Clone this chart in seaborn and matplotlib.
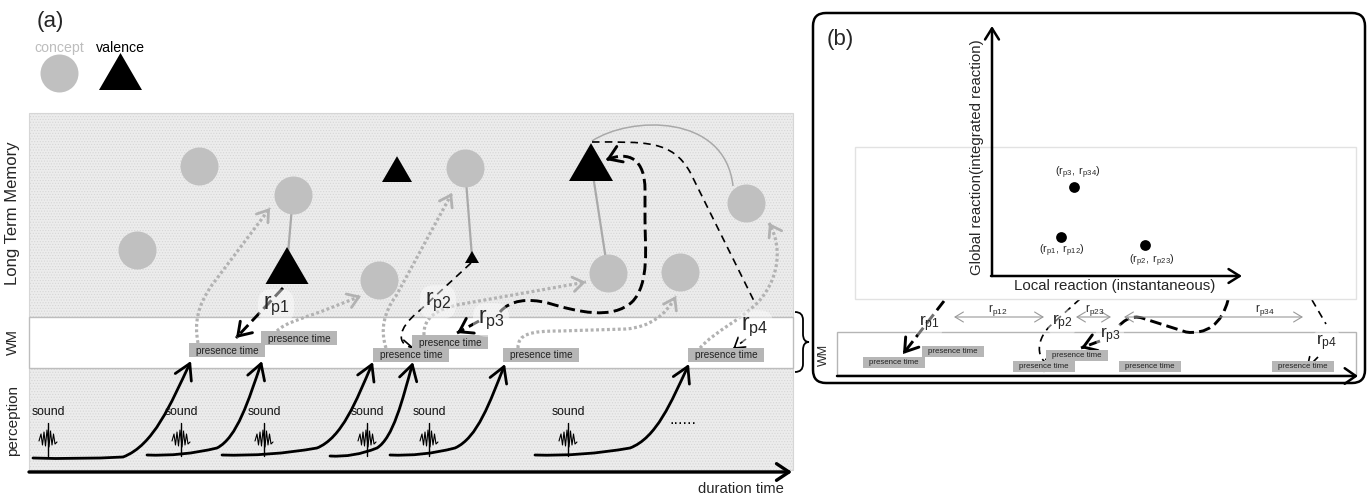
import numpy as np
import matplotlib
matplotlib.use("Agg")
import matplotlib.pyplot as plt
import seaborn as sns
import pandas as pd
from matplotlib.path import Path
from matplotlib.patches import Rectangle, Polygon, PathPatch, FancyArrowPatch, FancyBboxPatch

# ---------------- data (diagram coordinates, pixel space) ----------------
concept_x = [199, 293, 137, 379, 465, 608, 680, 746]
concept_y = [166, 195, 250, 280, 168, 273, 272, 203]

valence_x = [287, 397, 472, 591]
valence_base = [284, 182, 263, 181]
valence_w = [43, 30, 14, 44]

link_concept = [1, 4, 5]
link_valence = [0, 2, 3]

presence_x = [189, 261, 373, 412, 503, 688]
presence_y = [343, 331, 348, 335, 348, 348]

sound_x = [48, 181, 264, 367, 429, 568]

curve_x0 = [33, 147, 222, 330, 390, 535]
curve_y0 = [458, 455, 455, 456, 455, 455]
curve_xk = [123, 217, 317, 377, 455, 630]
curve_yk = [457, 448, 448, 448, 448, 448]
curve_x1 = [191, 262, 373, 413, 505, 689]
curve_y1 = [361, 361, 362, 362, 364, 364]

wave_dx = [-9, -7, -5.5, -4, -2.5, -1, 1, 2.5, 4, 5.5, 7, 9]
wave_dy = [2, -5, 6, -7, 7, -9, 8, -8, 6, -5, 5, 3]

r_labels_a = ["p1", "p2", "p3", "p4"]
r_label_x_a = [276, 438, 491, 755]
r_label_y_a = [306, 302, 320, 327]

# panel (b)
local_reaction = [1061, 1145, 1074]
global_reaction = [237, 245, 187]
point_labels = [r"$\mathregular{(r_{p1},\ r_{p12})}$", r"$\mathregular{(r_{p2},\ r_{p23})}$",
                r"$\mathregular{(r_{p3},\ r_{p34})}$"]
point_label_x = [1062, 1152, 1078]
point_label_y = [251, 261, 173]

pb_presence_x = [863, 922, 1013, 1046, 1119, 1272]
pb_presence_y = [357, 346, 361, 350, 361, 361]

span_x0 = [954, 1076, 1124]
span_x1 = [1044, 1111, 1303]
span_labels = ["p12", "p23", "p34"]
span_label_x = [998, 1095, 1265]

r_label_x_b = [929, 1062, 1110, 1327]
r_label_y_b = [324, 323, 336, 343]

# path specs
dot_paths = [
    [("M", (198, 343)), ("C", (194, 322), (198, 305), (212, 285)), ("L", (270, 208))],
    [("M", (277, 331)), ("C", (285, 323), (300, 319), (320, 312)), ("L", (361, 296))],
    [("M", (386, 348)), ("C", (380, 330), (384, 312), (396, 296)), ("L", (452, 193))],
    [("M", (424, 335)), ("C", (423, 318), (436, 309), (462, 304)), ("L", (586, 282))],
    [("M", (518, 348)), ("C", (518, 334), (530, 331), (560, 331)), ("L", (626, 329)),
     ("C", (650, 327), (666, 315), (676, 296))],
    [("M", (700, 348)), ("C", (716, 330), (742, 320), (760, 300)), ("C", (780, 276), (782, 246), (769, 223))],
]

# (spec, thick?, head?)
dash_paths = [
    ([("M", (283, 288)), ("L", (236, 338))], True, True),
    ([("M", (471, 263)), ("L", (418, 312)), ("C", (398, 328), (395, 345), (414, 348))], False, True),
    ([("M", (500, 312)), ("C", (510, 300), (528, 298), (548, 303)), ("C", (578, 312), (612, 320), (632, 302)),
      ("C", (650, 284), (645, 245), (645, 220)), ("L", (645, 190)), ("C", (645, 160), (630, 150), (606, 160))],
     True, True),
    ([("M", (479, 321)), ("L", (457, 333))], True, True),
    ([("M", (592, 142)), ("C", (645, 142), (672, 140), (690, 172)), ("L", (755, 303))], False, False),
    ([("M", (746, 339)), ("L", (733, 349))], False, True),
    # panel b
    ([("M", (944, 301)), ("L", (903, 354))], True, True),
    ([("M", (1080, 299)), ("L", (1050, 326)), ("C", (1034, 342), (1036, 364), (1056, 367))], False, True),
    ([("M", (1228, 300)), ("C", (1222, 324), (1206, 335), (1186, 332)), ("L", (1142, 318)),
      ("C", (1132, 315), (1124, 320), (1118, 327))], True, False),
    ([("M", (1100, 341)), ("L", (1081, 348))], True, True),
    ([("M", (1312, 300)), ("L", (1326, 324))], False, False),
    ([("M", (1318, 357)), ("L", (1306, 369))], False, True),
]

arc_path = [("M", (592, 141)), ("C", (630, 116), (725, 113), (733, 186))]
brace_path = [("M", (795, 312)), ("Q", (803, 312), (803, 320)), ("L", (803, 334)), ("Q", (803, 342), (809, 342)),
              ("Q", (803, 342), (803, 350)), ("L", (803, 364)), ("Q", (803, 372), (795, 372))]

# ---------------- style ----------------
sns.set_theme(style="white")
FONT = "Liberation Sans"
plt.rcParams["font.family"] = [FONT, "DejaVu Sans"]
plt.rcParams["mathtext.fontset"] = "custom"
plt.rcParams["mathtext.rm"] = FONT
plt.rcParams["mathtext.it"] = FONT + ":italic"
plt.rcParams["hatch.linewidth"] = 0.5
plt.rcParams["hatch.color"] = "#d2d2d2"

CONCEPT = "#c0c0c0"
BOX = "#b6b6b6"
DOT = "#b2b2b2"
BG = "#ececec"

fig = plt.figure(figsize=(13.67, 4.97), dpi=100)
ax = fig.add_axes([0, 0, 1, 1])


def make_path(spec):
    verts, codes = [], []
    for seg in spec:
        kind, pts = seg[0], seg[1:]
        if kind == "M":
            verts.append(pts[0]); codes.append(Path.MOVETO)
        elif kind == "L":
            verts.append(pts[0]); codes.append(Path.LINETO)
        elif kind == "Q":
            verts += list(pts); codes += [Path.CURVE3] * 2
        elif kind == "C":
            verts += list(pts); codes += [Path.CURVE4] * 3
    return Path(verts, codes)


def head(path, color, lw, hl, hw, z):
    v = np.asarray(path.vertices, float)
    end, prev = v[-1], v[-2]
    d = end - prev
    d = d / np.hypot(*d)
    a = FancyArrowPatch(posA=tuple(end - d * 3), posB=tuple(end),
                        arrowstyle=f"->,head_length={hl},head_width={hw}", mutation_scale=20,
                        color=color, lw=lw, shrinkA=0, shrinkB=0, zorder=z, capstyle="round",
                        joinstyle="miter")
    ax.add_patch(a)


# backgrounds
ax.add_patch(Rectangle((29, 113), 764, 204, fc=BG, ec="#d6d6d6", lw=0.8, hatch="......", zorder=0))
ax.add_patch(Rectangle((29, 368), 764, 102, fc=BG, ec="#d6d6d6", lw=0.8, hatch="......", zorder=0))
ax.add_patch(Rectangle((29, 317), 764, 51, fc="white", ec="#bdbdbd", lw=1.0, zorder=0.5))

# links between concept and valence
for ci, vi in zip(link_concept, link_valence):
    vb = valence_base[vi]
    vh = valence_w[vi] * 0.86
    ax.plot([concept_x[ci], valence_x[vi]], [concept_y[ci], vb - vh / 2], color="#a9a9a9", lw=1.6, zorder=1.5)
ax.add_patch(PathPatch(make_path(arc_path), fill=False, ec="#a9a9a9", lw=1.1, zorder=1.5))

# dotted gray arrows
for spec in dot_paths:
    p = make_path(spec)
    ax.add_patch(PathPatch(p, fill=False, ec=DOT, lw=2.3, ls=(0, (0.9, 0.8)), capstyle="butt", zorder=2))
    head(p, DOT, 2.0, 0.38, 0.26, 2)

# dashed black
for spec, thick, hd in dash_paths:
    p = make_path(spec)
    lw = 2.1 if thick else 1.2
    ls = (0, (4.0, 1.8)) if thick else (0, (4.5, 3.2))
    ax.add_patch(PathPatch(p, fill=False, ec="black", lw=lw, ls=ls, capstyle="butt", zorder=2.5))
    if hd:
        if thick:
            head(p, "black", 2.1, 0.45, 0.3, 2.5)
        else:
            head(p, "black", 1.2, 0.35, 0.22, 2.5)

# concept nodes (seaborn)
concept_df = pd.DataFrame({"x": concept_x, "y": concept_y})
sns.scatterplot(data=concept_df, x="x", y="y", s=748, color=CONCEPT, linewidth=0, ax=ax, zorder=3, legend=False)

# valence nodes
for cx, b, w in zip(valence_x, valence_base, valence_w):
    h = w * 0.86
    ax.add_patch(Polygon([(cx - w / 2, b), (cx + w / 2, b), (cx, b - h)], closed=True, fc="black", ec="none", zorder=3))

# presence time boxes
for x, y in zip(presence_x, presence_y):
    ax.add_patch(Rectangle((x, y), 76, 14, fc=BOX, ec="none", zorder=4))
    ax.text(x + 38, y + 7.5, "presence time", ha="center", va="center", fontsize=7.2, color="#222222",
            zorder=4.5)

# perception curves
for x0, y0, xk, yk, x1, y1 in zip(curve_x0, curve_y0, curve_xk, curve_yk, curve_x1, curve_y1):
    spec = [("M", (x0, y0)), ("Q", ((x0 + xk) / 2, y0 + 1.5), (xk, yk)),
            ("C", (xk + 0.45 * (x1 - xk), yk - 0.12 * (yk - y1)), (x1 - 0.3 * (x1 - xk), y1 + 0.45 * (yk - y1)),
             (x1, y1))]
    p = make_path(spec)
    ax.add_patch(FancyArrowPatch(path=p, arrowstyle="->,head_length=0.55,head_width=0.32", mutation_scale=20,
                                 color="black", lw=2.0, zorder=3))

# sounds
for sx in sound_x:
    ax.text(sx, 412, "sound", ha="center", va="center", fontsize=8.8, color="#111111", zorder=3)
    ax.plot([sx + d for d in wave_dx], [439 + d for d in wave_dy], color="black", lw=0.8, zorder=3)
    ax.plot([sx, sx], [423, 456], color="black", lw=1.0, zorder=3)
ax.text(683, 420, "......", ha="center", va="center", fontsize=11.5, color="black")

# time axis
ax.add_patch(FancyArrowPatch((29, 472), (792, 472), arrowstyle="->,head_length=0.45,head_width=0.3",
                             mutation_scale=20, color="black", lw=2.4, shrinkA=0, shrinkB=0, zorder=3))
ax.text(784, 489, "duration time", ha="right", va="center", fontsize=10.6)

# brace
ax.add_patch(PathPatch(make_path(brace_path), fill=False, ec="black", lw=1.3, zorder=3))

# r labels panel a
glow = dict(boxstyle="round,pad=0.2,rounding_size=0.6", fc="white", ec="none", alpha=0.45)
for lab, x, y in zip(r_labels_a, r_label_x_a, r_label_y_a):
    ax.text(x, y, r"$\mathregular{r_{%s}}$" % lab, ha="center", va="center", fontsize=16.5, bbox=glow, zorder=5)

# side labels
ax.text(13, 213, "Long Term Memory", rotation=90, ha="center", va="center", fontsize=12)
ax.text(13, 342, "WM", rotation=90, ha="center", va="center", fontsize=10.5)
ax.text(13, 420, "perception", rotation=90, ha="center", va="center", fontsize=11)

# legend
ax.text(50, 22, "(a)", ha="center", va="center", fontsize=16)
ax.text(59, 48, "concept", ha="center", va="center", fontsize=10.2, color="#bdbdbd")
ax.text(120, 48, "valence", ha="center", va="center", fontsize=10.2, color="black")
legend_df = pd.DataFrame({"x": [59], "y": [73]})
sns.scatterplot(data=legend_df, x="x", y="y", s=748, color=CONCEPT, linewidth=0, ax=ax, zorder=3, legend=False)
ax.add_patch(Polygon([(99, 90), (142, 90), (120.5, 53)], closed=True, fc="black", ec="none", zorder=3))

# ---------------- panel (b) ----------------
ax.add_patch(FancyBboxPatch((813, 13), 552, 370, boxstyle="round,pad=0,rounding_size=13",
                            fc="none", ec="black", lw=1.8, zorder=6))
ax.text(840, 39, "(b)", ha="center", va="center", fontsize=16)
ax.add_patch(Rectangle((855, 147), 501, 152, fc="white", ec="#e2e2e2", lw=1.0, zorder=2.8))

ax.add_patch(FancyArrowPatch((992, 276), (992, 26), arrowstyle="->,head_length=0.4,head_width=0.25",
                             mutation_scale=20, color="black", lw=1.8, shrinkA=0, shrinkB=0, zorder=4))
ax.add_patch(FancyArrowPatch((991, 276), (1242, 276), arrowstyle="->,head_length=0.4,head_width=0.25",
                             mutation_scale=20, color="black", lw=1.8, shrinkA=0, shrinkB=0, zorder=4))
ax.text(1115, 286, "Local reaction (instantaneous)", ha="center", va="center", fontsize=10.8)
ax.text(977, 157, "Global reaction(integrated reaction)", rotation=90, ha="center", va="center",
        fontsize=10.8)

pts_df = pd.DataFrame({"local": local_reaction, "global": global_reaction})
sns.scatterplot(data=pts_df, x="local", y="global", s=60, color="black", linewidth=0, ax=ax, zorder=5, legend=False)
for lab, x, y in zip(point_labels, point_label_x, point_label_y):
    ax.text(x, y, lab, ha="center", va="center", fontsize=7.8, zorder=5)

# panel b WM
ax.add_patch(Rectangle((837, 332), 519, 43, fc="white", ec="#b5b5b5", lw=1.0, zorder=1))
ax.add_patch(FancyArrowPatch((837, 376), (1358, 376), arrowstyle="->,head_length=0.4,head_width=0.28",
                             mutation_scale=20, color="black", lw=1.8, shrinkA=0, shrinkB=0, zorder=4))
ax.text(824, 355, "WM", rotation=90, ha="center", va="center", fontsize=9)
for x, y in zip(pb_presence_x, pb_presence_y):
    ax.add_patch(Rectangle((x, y), 62, 10.5, fc=BOX, ec="none", zorder=4))
    ax.text(x + 31, y + 5.5, "presence time", ha="center", va="center", fontsize=5.7, color="#222222",
            zorder=4.5)

for x0, x1, lab, lx in zip(span_x0, span_x1, span_labels, span_label_x):
    ax.add_patch(FancyArrowPatch((x0, 317), (x1, 317), arrowstyle="<->,head_length=0.3,head_width=0.18",
                                 mutation_scale=20, color="#9a9a9a", lw=0.8, shrinkA=0, shrinkB=0, zorder=3))
    ax.text(lx, 310, r"$\mathregular{r_{%s}}$" % lab, ha="center", va="center", fontsize=8.5, zorder=3)

for lab, x, y in zip(r_labels_a, r_label_x_b, r_label_y_b):
    ax.text(x, y, r"$\mathregular{r_{%s}}$" % lab, ha="center", va="center", fontsize=12.5, bbox=glow,
            zorder=5)

ax.set_xlim(0, 1367)
ax.set_ylim(497, 0)
ax.axis("off")
fig.savefig("out.png", dpi=100, facecolor="white")
